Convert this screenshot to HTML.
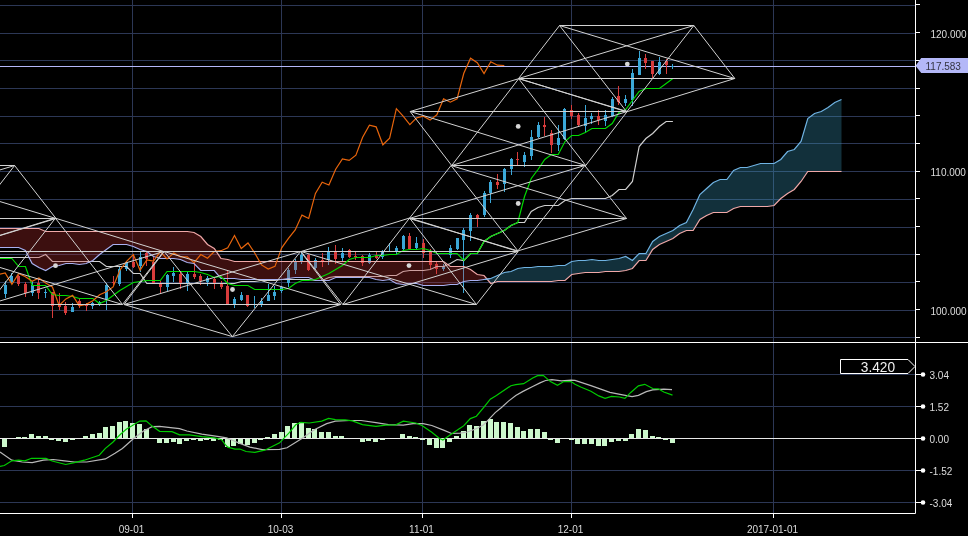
<!DOCTYPE html>
<html><head><meta charset="utf-8"><style>
html,body{margin:0;padding:0;background:#000;}
body{width:968px;height:536px;overflow:hidden;}
svg{display:block;}
</style></head><body>
<svg width="968" height="536" viewBox="0 0 968 536">
<defs><clipPath id="mp"><rect x="0" y="0" width="915" height="342"/></clipPath><clipPath id="lp"><rect x="0" y="343" width="915" height="170"/></clipPath></defs>
<rect width="968" height="536" fill="#000"/>
<path d="M0 5.5H915M0 33.5H915M0 60.5H915M0 88.5H915M0 116.5H915M0 143.5H915M0 171.5H915M0 199.5H915M0 227.5H915M0 254.5H915M0 282.5H915M0 310.5H915M0 337.5H915M0 374.5H915M0 406.5H915M0 470.5H915M0 502.5H915M132.5 0V342M132.5 343V513M281.5 0V342M281.5 343V513M422.5 0V342M422.5 343V513M571.5 0V342M571.5 343V513M773.5 0V342M773.5 343V513" stroke="#2c3755" stroke-width="1" fill="none"/>
<g clip-path="url(#mp)">
<path d="M0 66.5H915" stroke="#b4b8f8" stroke-width="1.2"/>
<rect x="5" y="281" width="1" height="17" fill="#3ba8d8"/>
<rect x="4" y="285" width="3" height="9" fill="#3ba8d8"/>
<rect x="11" y="273" width="1" height="11" fill="#3ba8d8"/>
<rect x="10" y="276" width="3" height="6" fill="#3ba8d8"/>
<rect x="18" y="275" width="1" height="11" fill="#d83c3c"/>
<rect x="17" y="276" width="3" height="8" fill="#d83c3c"/>
<rect x="25" y="282" width="1" height="15" fill="#d83c3c"/>
<rect x="24" y="284" width="3" height="9" fill="#d83c3c"/>
<rect x="32" y="281" width="1" height="15" fill="#3ba8d8"/>
<rect x="31" y="285" width="3" height="8" fill="#3ba8d8"/>
<rect x="38" y="279" width="1" height="20" fill="#d83c3c"/>
<rect x="37" y="283" width="3" height="10" fill="#d83c3c"/>
<rect x="45" y="289" width="1" height="9" fill="#3ba8d8"/>
<rect x="44" y="292" width="3" height="1" fill="#3ba8d8"/>
<rect x="52" y="292" width="1" height="26" fill="#d83c3c"/>
<rect x="51" y="292" width="3" height="14" fill="#d83c3c"/>
<rect x="59" y="293" width="1" height="17" fill="#d83c3c"/>
<rect x="58" y="304" width="3" height="3" fill="#d83c3c"/>
<rect x="65" y="302" width="1" height="13" fill="#d83c3c"/>
<rect x="64" y="306" width="3" height="7" fill="#d83c3c"/>
<rect x="72" y="303" width="1" height="9" fill="#3ba8d8"/>
<rect x="71" y="307" width="3" height="5" fill="#3ba8d8"/>
<rect x="79" y="298" width="1" height="10" fill="#d83c3c"/>
<rect x="78" y="301" width="3" height="5" fill="#d83c3c"/>
<rect x="86" y="303" width="1" height="8" fill="#d83c3c"/>
<rect x="85" y="305" width="3" height="1" fill="#d83c3c"/>
<rect x="92" y="302" width="1" height="7" fill="#3ba8d8"/>
<rect x="91" y="303" width="3" height="3" fill="#3ba8d8"/>
<rect x="99" y="301" width="1" height="5" fill="#3ba8d8"/>
<rect x="98" y="302" width="3" height="2" fill="#3ba8d8"/>
<rect x="106" y="283" width="1" height="27" fill="#3ba8d8"/>
<rect x="105" y="285" width="3" height="14" fill="#3ba8d8"/>
<rect x="113" y="276" width="1" height="9" fill="#d83c3c"/>
<rect x="112" y="282" width="3" height="1" fill="#d83c3c"/>
<rect x="119" y="266" width="1" height="20" fill="#3ba8d8"/>
<rect x="118" y="269" width="3" height="15" fill="#3ba8d8"/>
<rect x="126" y="261" width="1" height="10" fill="#3ba8d8"/>
<rect x="125" y="262" width="3" height="7" fill="#3ba8d8"/>
<rect x="133" y="254" width="1" height="14" fill="#d83c3c"/>
<rect x="132" y="262" width="3" height="5" fill="#d83c3c"/>
<rect x="140" y="251" width="1" height="21" fill="#3ba8d8"/>
<rect x="139" y="257" width="3" height="9" fill="#3ba8d8"/>
<rect x="146" y="252" width="1" height="14" fill="#d83c3c"/>
<rect x="145" y="253" width="3" height="6" fill="#d83c3c"/>
<rect x="153" y="257" width="1" height="26" fill="#d83c3c"/>
<rect x="152" y="262" width="3" height="21" fill="#d83c3c"/>
<rect x="160" y="281" width="1" height="12" fill="#d83c3c"/>
<rect x="159" y="283" width="3" height="4" fill="#d83c3c"/>
<rect x="167" y="274" width="1" height="17" fill="#3ba8d8"/>
<rect x="166" y="275" width="3" height="12" fill="#3ba8d8"/>
<rect x="173" y="267" width="1" height="15" fill="#3ba8d8"/>
<rect x="172" y="273" width="3" height="3" fill="#3ba8d8"/>
<rect x="180" y="272" width="1" height="17" fill="#d83c3c"/>
<rect x="179" y="274" width="3" height="10" fill="#d83c3c"/>
<rect x="187" y="272" width="1" height="19" fill="#3ba8d8"/>
<rect x="186" y="274" width="3" height="10" fill="#3ba8d8"/>
<rect x="194" y="262" width="1" height="17" fill="#d83c3c"/>
<rect x="193" y="274" width="3" height="3" fill="#d83c3c"/>
<rect x="200" y="274" width="1" height="11" fill="#d83c3c"/>
<rect x="199" y="276" width="3" height="5" fill="#d83c3c"/>
<rect x="207" y="276" width="1" height="10" fill="#3ba8d8"/>
<rect x="206" y="278" width="3" height="4" fill="#3ba8d8"/>
<rect x="214" y="278" width="1" height="11" fill="#d83c3c"/>
<rect x="213" y="279" width="3" height="4" fill="#d83c3c"/>
<rect x="221" y="281" width="1" height="8" fill="#d83c3c"/>
<rect x="220" y="284" width="3" height="3" fill="#d83c3c"/>
<rect x="227" y="271" width="1" height="34" fill="#d83c3c"/>
<rect x="226" y="286" width="3" height="19" fill="#d83c3c"/>
<rect x="234" y="297" width="1" height="11" fill="#3ba8d8"/>
<rect x="233" y="299" width="3" height="6" fill="#3ba8d8"/>
<rect x="241" y="292" width="1" height="9" fill="#3ba8d8"/>
<rect x="240" y="295" width="3" height="5" fill="#3ba8d8"/>
<rect x="247" y="295" width="1" height="12" fill="#d83c3c"/>
<rect x="246" y="295" width="3" height="11" fill="#d83c3c"/>
<rect x="254" y="296" width="1" height="12" fill="#3ba8d8"/>
<rect x="253" y="304" width="3" height="1" fill="#3ba8d8"/>
<rect x="261" y="298" width="1" height="9" fill="#3ba8d8"/>
<rect x="260" y="301" width="3" height="3" fill="#3ba8d8"/>
<rect x="268" y="284" width="1" height="17" fill="#3ba8d8"/>
<rect x="267" y="295" width="3" height="6" fill="#3ba8d8"/>
<rect x="274" y="286" width="1" height="14" fill="#3ba8d8"/>
<rect x="273" y="292" width="3" height="4" fill="#3ba8d8"/>
<rect x="281" y="286" width="1" height="7" fill="#3ba8d8"/>
<rect x="280" y="287" width="3" height="4" fill="#3ba8d8"/>
<rect x="288" y="268" width="1" height="19" fill="#3ba8d8"/>
<rect x="287" y="270" width="3" height="13" fill="#3ba8d8"/>
<rect x="295" y="259" width="1" height="15" fill="#3ba8d8"/>
<rect x="294" y="261" width="3" height="9" fill="#3ba8d8"/>
<rect x="301" y="253" width="1" height="11" fill="#3ba8d8"/>
<rect x="300" y="255" width="3" height="6" fill="#3ba8d8"/>
<rect x="308" y="254" width="1" height="17" fill="#d83c3c"/>
<rect x="307" y="255" width="3" height="15" fill="#d83c3c"/>
<rect x="315" y="258" width="1" height="12" fill="#3ba8d8"/>
<rect x="314" y="260" width="3" height="8" fill="#3ba8d8"/>
<rect x="322" y="253" width="1" height="14" fill="#d83c3c"/>
<rect x="321" y="260" width="3" height="1" fill="#d83c3c"/>
<rect x="328" y="247" width="1" height="18" fill="#3ba8d8"/>
<rect x="327" y="252" width="3" height="8" fill="#3ba8d8"/>
<rect x="335" y="245" width="1" height="19" fill="#d83c3c"/>
<rect x="334" y="252" width="3" height="7" fill="#d83c3c"/>
<rect x="342" y="248" width="1" height="13" fill="#3ba8d8"/>
<rect x="341" y="253" width="3" height="5" fill="#3ba8d8"/>
<rect x="349" y="249" width="1" height="9" fill="#d83c3c"/>
<rect x="348" y="250" width="3" height="7" fill="#d83c3c"/>
<rect x="355" y="252" width="1" height="8" fill="#d83c3c"/>
<rect x="354" y="256" width="3" height="1" fill="#d83c3c"/>
<rect x="362" y="255" width="1" height="11" fill="#d83c3c"/>
<rect x="361" y="256" width="3" height="7" fill="#d83c3c"/>
<rect x="369" y="253" width="1" height="11" fill="#3ba8d8"/>
<rect x="368" y="255" width="3" height="8" fill="#3ba8d8"/>
<rect x="376" y="252" width="1" height="7" fill="#d83c3c"/>
<rect x="375" y="255" width="3" height="3" fill="#d83c3c"/>
<rect x="382" y="250" width="1" height="9" fill="#3ba8d8"/>
<rect x="381" y="252" width="3" height="5" fill="#3ba8d8"/>
<rect x="389" y="243" width="1" height="9" fill="#3ba8d8"/>
<rect x="388" y="251" width="3" height="1" fill="#3ba8d8"/>
<rect x="396" y="246" width="1" height="9" fill="#3ba8d8"/>
<rect x="395" y="248" width="3" height="4" fill="#3ba8d8"/>
<rect x="403" y="235" width="1" height="15" fill="#3ba8d8"/>
<rect x="402" y="236" width="3" height="13" fill="#3ba8d8"/>
<rect x="409" y="233" width="1" height="16" fill="#d83c3c"/>
<rect x="408" y="236" width="3" height="13" fill="#d83c3c"/>
<rect x="416" y="237" width="1" height="12" fill="#3ba8d8"/>
<rect x="415" y="243" width="3" height="5" fill="#3ba8d8"/>
<rect x="423" y="239" width="1" height="19" fill="#d83c3c"/>
<rect x="422" y="243" width="3" height="10" fill="#d83c3c"/>
<rect x="430" y="249" width="1" height="20" fill="#d83c3c"/>
<rect x="429" y="252" width="3" height="13" fill="#d83c3c"/>
<rect x="436" y="262" width="1" height="12" fill="#d83c3c"/>
<rect x="435" y="264" width="3" height="5" fill="#d83c3c"/>
<rect x="443" y="264" width="1" height="7" fill="#3ba8d8"/>
<rect x="442" y="266" width="3" height="3" fill="#3ba8d8"/>
<rect x="450" y="245" width="1" height="13" fill="#3ba8d8"/>
<rect x="449" y="248" width="3" height="7" fill="#3ba8d8"/>
<rect x="457" y="238" width="1" height="12" fill="#3ba8d8"/>
<rect x="456" y="238" width="3" height="11" fill="#3ba8d8"/>
<rect x="463" y="228" width="1" height="65" fill="#3ba8d8"/>
<rect x="462" y="230" width="3" height="10" fill="#3ba8d8"/>
<rect x="470" y="213" width="1" height="28" fill="#3ba8d8"/>
<rect x="469" y="215" width="3" height="16" fill="#3ba8d8"/>
<rect x="477" y="214" width="1" height="13" fill="#d83c3c"/>
<rect x="476" y="215" width="3" height="4" fill="#d83c3c"/>
<rect x="484" y="191" width="1" height="26" fill="#3ba8d8"/>
<rect x="483" y="193" width="3" height="22" fill="#3ba8d8"/>
<rect x="490" y="180" width="1" height="23" fill="#3ba8d8"/>
<rect x="489" y="182" width="3" height="11" fill="#3ba8d8"/>
<rect x="497" y="174" width="1" height="15" fill="#d83c3c"/>
<rect x="496" y="182" width="3" height="3" fill="#d83c3c"/>
<rect x="504" y="168" width="1" height="24" fill="#3ba8d8"/>
<rect x="503" y="169" width="3" height="15" fill="#3ba8d8"/>
<rect x="511" y="158" width="1" height="17" fill="#3ba8d8"/>
<rect x="510" y="159" width="3" height="10" fill="#3ba8d8"/>
<rect x="517" y="152" width="1" height="13" fill="#d83c3c"/>
<rect x="516" y="159" width="3" height="1" fill="#d83c3c"/>
<rect x="524" y="152" width="1" height="15" fill="#3ba8d8"/>
<rect x="523" y="155" width="3" height="7" fill="#3ba8d8"/>
<rect x="531" y="130" width="1" height="30" fill="#3ba8d8"/>
<rect x="530" y="137" width="3" height="19" fill="#3ba8d8"/>
<rect x="538" y="122" width="1" height="16" fill="#3ba8d8"/>
<rect x="537" y="125" width="3" height="12" fill="#3ba8d8"/>
<rect x="544" y="117" width="1" height="19" fill="#d83c3c"/>
<rect x="543" y="125" width="3" height="2" fill="#d83c3c"/>
<rect x="551" y="130" width="1" height="23" fill="#d83c3c"/>
<rect x="550" y="133" width="3" height="12" fill="#d83c3c"/>
<rect x="558" y="125" width="1" height="26" fill="#3ba8d8"/>
<rect x="557" y="138" width="3" height="7" fill="#3ba8d8"/>
<rect x="564" y="108" width="1" height="32" fill="#3ba8d8"/>
<rect x="563" y="109" width="3" height="30" fill="#3ba8d8"/>
<rect x="571" y="105" width="1" height="14" fill="#d83c3c"/>
<rect x="570" y="110" width="3" height="6" fill="#d83c3c"/>
<rect x="578" y="113" width="1" height="13" fill="#d83c3c"/>
<rect x="577" y="115" width="3" height="10" fill="#d83c3c"/>
<rect x="585" y="105" width="1" height="28" fill="#3ba8d8"/>
<rect x="584" y="118" width="3" height="8" fill="#3ba8d8"/>
<rect x="591" y="113" width="1" height="11" fill="#3ba8d8"/>
<rect x="590" y="116" width="3" height="3" fill="#3ba8d8"/>
<rect x="598" y="110" width="1" height="15" fill="#d83c3c"/>
<rect x="597" y="116" width="3" height="4" fill="#d83c3c"/>
<rect x="605" y="110" width="1" height="16" fill="#3ba8d8"/>
<rect x="604" y="115" width="3" height="6" fill="#3ba8d8"/>
<rect x="612" y="97" width="1" height="20" fill="#3ba8d8"/>
<rect x="611" y="99" width="3" height="17" fill="#3ba8d8"/>
<rect x="618" y="86" width="1" height="19" fill="#d83c3c"/>
<rect x="617" y="96" width="3" height="6" fill="#d83c3c"/>
<rect x="625" y="95" width="1" height="11" fill="#3ba8d8"/>
<rect x="624" y="99" width="3" height="4" fill="#3ba8d8"/>
<rect x="632" y="69" width="1" height="37" fill="#3ba8d8"/>
<rect x="631" y="73" width="3" height="27" fill="#3ba8d8"/>
<rect x="639" y="51" width="1" height="24" fill="#3ba8d8"/>
<rect x="638" y="58" width="3" height="17" fill="#3ba8d8"/>
<rect x="645" y="54" width="1" height="15" fill="#d83c3c"/>
<rect x="644" y="58" width="3" height="5" fill="#d83c3c"/>
<rect x="652" y="61" width="1" height="17" fill="#d83c3c"/>
<rect x="651" y="61" width="3" height="13" fill="#d83c3c"/>
<rect x="659" y="57" width="1" height="18" fill="#3ba8d8"/>
<rect x="658" y="62" width="3" height="12" fill="#3ba8d8"/>
<rect x="666" y="59" width="1" height="15" fill="#d83c3c"/>
<rect x="665" y="61" width="3" height="4" fill="#d83c3c"/>
<rect x="672" y="64" width="1" height="5" fill="#3ba8d8"/>
<rect x="671" y="66" width="3" height="1" fill="#3ba8d8"/>
<polyline points="-1.56,257.5 5.18,257.5 11.93,257.5 18.67,257.5 25.42,257.5 32.16,257.5 38.91,257.5 45.65,254.5 52.4,261.5 59.14,261.5 65.89,261.5 72.63,261.5 79.37,261.5 86.12,261.5 92.86,261.5 99.61,261.5 106.35,266.5 113.1,266.5 119.84,266.5 126.59,266.5 133.33,273.5 140.07,273.5 146.82,283.5 153.56,283.5 160.31,283.5 167.05,283.5 173.8,283.5 180.54,283.5 187.29,283.5 194.03,283.5 200.78,283.5 207.52,283.5 214.26,283.5 221.01,283.5 227.75,283.5 234.5,283.5 241.24,281.5 247.99,281.5 254.73,281.5 261.48,280.5 268.22,280.5 274.96,280.5 281.71,279.5 288.45,279.5 295.2,279.5 301.94,279.5 308.69,279.5 315.43,280.5 322.18,280.5 328.92,277.5 335.67,276.5 342.41,276.5 349.15,276.5 355.9,276.5 362.64,276.5 369.39,276.5 376.13,276.5 382.88,276.5 389.62,275.5 396.37,275.5 403.11,271.5 409.85,270.5 416.6,270.5 423.34,270.5 430.09,269.5 436.83,266.5 443.58,266.5 450.32,263.5 457.07,259.5 463.81,260.5 470.56,253.5 477.3,253.5 484.04,241.5 490.79,236.5 497.53,233.5 504.28,230.5 511.02,225.5 517.77,222.5 524.51,222.5 531.26,211.5 538,207.5 544.74,205.5 551.49,205.5 558.23,205.5 564.98,200.5 571.72,198.5 578.47,198.5 585.21,198.5 591.96,198.5 598.7,198.5 605.45,198.5 612.19,195.5 618.93,189.5 625.68,189.5 632.42,181.5 639.17,146.5 645.91,138.5 652.66,133.5 659.4,126.5 666.15,121.5 672.89,121.5" fill="none" stroke="#d0d0d0" stroke-width="1.2"/>
<polygon points="-1.56,247.5 5.18,247.5 11.93,247.5 18.67,247.5 25.42,250.5 32.16,263.5 38.91,267.5 45.65,270.5 52.4,266.5 59.14,265.5 65.89,263.5 72.63,263.5 79.37,264.5 86.12,263.5 92.86,260.5 99.61,254.5 106.35,249.5 113.1,244.5 119.84,244.5 126.59,244.5 133.33,246.5 140.07,249.5 146.82,251.5 153.56,256.5 160.31,258.5 167.05,258.5 173.8,258.5 180.54,259.5 187.29,262.5 194.03,263.5 200.78,270.5 207.52,270.5 214.26,270.5 221.01,278.5 227.75,278.5 234.5,278.5 241.24,279.5 247.99,279.5 254.73,279.5 261.48,279.5 268.22,279.5 274.96,279.5 281.71,279.5 288.45,278.5 295.2,277.5 301.94,277.5 308.69,277.5 315.43,280.5 322.18,280.5 328.92,280.5 335.67,277.5 342.41,277.5 349.15,277.5 355.9,277.5 362.64,277.5 369.39,277.5 376.13,279.5 382.88,280.5 389.62,279.5 396.37,283.5 403.11,284.5 409.85,283.5 416.6,283.5 423.34,285.5 430.09,285.5 436.83,285.5 443.58,285.5 450.32,284.5 457.07,284.5 463.81,281.5 470.56,280.5 477.3,280.5 484.04,279.5 487.04,279.06 487.04,279.06 484.04,275.5 477.3,274.5 470.56,269.5 463.81,266.5 457.07,266.5 450.32,266.5 443.58,261.5 436.83,261.5 430.09,261.5 423.34,261.5 416.6,261.5 409.85,261.5 403.11,261.5 396.37,261.5 389.62,261.5 382.88,261.5 376.13,261.5 369.39,261.5 362.64,261.5 355.9,261.5 349.15,261.5 342.41,261.5 335.67,261.5 328.92,261.5 322.18,261.5 315.43,261.5 308.69,261.5 301.94,261.5 295.2,261.5 288.45,261.5 281.71,261.5 274.96,261.5 268.22,261.5 261.48,261.5 254.73,261.5 247.99,261.5 241.24,261.5 234.5,261.5 227.75,259.5 221.01,258.5 214.26,248.5 207.52,244.5 200.78,236.5 194.03,232.5 187.29,231.5 180.54,231.5 173.8,231.5 167.05,231.5 160.31,231.5 153.56,231.5 146.82,231.5 140.07,231.5 133.33,231.5 126.59,231.5 119.84,231.5 113.1,231.5 106.35,231.5 99.61,231.5 92.86,231.5 86.12,231.5 79.37,231.5 72.63,231.5 65.89,231.5 59.14,231.5 52.4,231.5 45.65,231.5 38.91,228.5 32.16,228.5 25.42,228.5 18.67,228.5 11.93,228.5 5.18,228.5 -1.56,228.5" fill="rgba(200,50,50,0.3)"/>
<polygon points="487.04,279.06 490.79,278.5 497.53,275.5 504.28,272.5 511.02,271.5 517.77,268.5 524.51,267.5 531.26,267.5 538,266.5 544.74,266.5 551.49,266.5 558.23,265.5 564.98,265.5 571.72,261.5 578.47,260.5 585.21,260.5 591.96,259.5 598.7,260.5 605.45,260.5 612.19,259.5 618.93,258.5 625.68,256.5 632.42,260.5 639.17,253.5 645.91,253.5 652.66,241.5 659.4,236.5 666.15,233.5 672.89,230.5 679.63,225.5 686.38,222.5 693.12,209.5 699.87,194.5 706.61,188.5 713.36,182.5 720.1,179.5 726.85,179.5 733.59,170.5 740.34,167.5 747.08,167.5 753.82,165.5 760.57,163.5 767.31,163.5 774.06,163.5 780.8,159.5 787.55,151.5 794.29,149.5 801.04,141.5 807.78,118.5 814.52,113.5 821.27,111.5 828.01,107.5 834.76,102.5 841.5,99.5 841.5,171.5 834.76,171.5 828.01,171.5 821.27,171.5 814.52,171.5 807.78,171.5 801.04,181.5 794.29,189.5 787.55,193.5 780.8,198.5 774.06,205.5 767.31,206.5 760.57,206.5 753.82,206.5 747.08,206.5 740.34,206.5 733.59,208.5 726.85,212.5 720.1,212.5 713.36,212.5 706.61,215.5 699.87,219.5 693.12,230.5 686.38,230.5 679.63,233.5 672.89,238.5 666.15,241.5 659.4,244.5 652.66,249.5 645.91,260.5 639.17,260.5 632.42,268.5 625.68,270.5 618.93,271.5 612.19,271.5 605.45,271.5 598.7,272.5 591.96,272.5 585.21,272.5 578.47,273.5 571.72,274.5 564.98,280.5 558.23,280.5 551.49,281.5 544.74,281.5 538,281.5 531.26,281.5 524.51,281.5 517.77,281.5 511.02,281.5 504.28,281.5 497.53,281.5 490.79,283.5 487.04,279.06" fill="rgba(60,160,195,0.3)"/>
<polyline points="-1.56,228.5 5.18,228.5 11.93,228.5 18.67,228.5 25.42,228.5 32.16,228.5 38.91,228.5 45.65,231.5 52.4,231.5 59.14,231.5 65.89,231.5 72.63,231.5 79.37,231.5 86.12,231.5 92.86,231.5 99.61,231.5 106.35,231.5 113.1,231.5 119.84,231.5 126.59,231.5 133.33,231.5 140.07,231.5 146.82,231.5 153.56,231.5 160.31,231.5 167.05,231.5 173.8,231.5 180.54,231.5 187.29,231.5 194.03,232.5 200.78,236.5 207.52,244.5 214.26,248.5 221.01,258.5 227.75,259.5 234.5,261.5 241.24,261.5 247.99,261.5 254.73,261.5 261.48,261.5 268.22,261.5 274.96,261.5 281.71,261.5 288.45,261.5 295.2,261.5 301.94,261.5 308.69,261.5 315.43,261.5 322.18,261.5 328.92,261.5 335.67,261.5 342.41,261.5 349.15,261.5 355.9,261.5 362.64,261.5 369.39,261.5 376.13,261.5 382.88,261.5 389.62,261.5 396.37,261.5 403.11,261.5 409.85,261.5 416.6,261.5 423.34,261.5 430.09,261.5 436.83,261.5 443.58,261.5 450.32,266.5 457.07,266.5 463.81,266.5 470.56,269.5 477.3,274.5 484.04,275.5 490.79,283.5 497.53,281.5 504.28,281.5 511.02,281.5 517.77,281.5 524.51,281.5 531.26,281.5 538,281.5 544.74,281.5 551.49,281.5 558.23,280.5 564.98,280.5 571.72,274.5 578.47,273.5 585.21,272.5 591.96,272.5 598.7,272.5 605.45,271.5 612.19,271.5 618.93,271.5 625.68,270.5 632.42,268.5 639.17,260.5 645.91,260.5 652.66,249.5 659.4,244.5 666.15,241.5 672.89,238.5 679.63,233.5 686.38,230.5 693.12,230.5 699.87,219.5 706.61,215.5 713.36,212.5 720.1,212.5 726.85,212.5 733.59,208.5 740.34,206.5 747.08,206.5 753.82,206.5 760.57,206.5 767.31,206.5 774.06,205.5 780.8,198.5 787.55,193.5 794.29,189.5 801.04,181.5 807.78,171.5 814.52,171.5 821.27,171.5 828.01,171.5 834.76,171.5 841.5,171.5" fill="none" stroke="#f0a8a8" stroke-width="1.2"/>
<polyline points="-1.56,247.5 5.18,247.5 11.93,247.5 18.67,247.5 25.42,250.5 32.16,263.5 38.91,267.5 45.65,270.5 52.4,266.5 59.14,265.5 65.89,263.5 72.63,263.5 79.37,264.5 86.12,263.5 92.86,260.5 99.61,254.5 106.35,249.5 113.1,244.5 119.84,244.5 126.59,244.5 133.33,246.5 140.07,249.5 146.82,251.5 153.56,256.5 160.31,258.5 167.05,258.5 173.8,258.5 180.54,259.5 187.29,262.5 194.03,263.5 200.78,270.5 207.52,270.5 214.26,270.5 221.01,278.5 227.75,278.5 234.5,278.5 241.24,279.5 247.99,279.5 254.73,279.5 261.48,279.5 268.22,279.5 274.96,279.5 281.71,279.5 288.45,278.5 295.2,277.5 301.94,277.5 308.69,277.5 315.43,280.5 322.18,280.5 328.92,280.5 335.67,277.5 342.41,277.5 349.15,277.5 355.9,277.5 362.64,277.5 369.39,277.5 376.13,279.5 382.88,280.5 389.62,279.5 396.37,283.5 403.11,284.5 409.85,283.5 416.6,283.5 423.34,285.5 430.09,285.5 436.83,285.5 443.58,285.5 450.32,284.5 457.07,284.5 463.81,281.5 470.56,280.5 477.3,280.5 484.04,279.5 490.79,278.5" fill="none" stroke="#a8b0f0" stroke-width="1.2"/>
<polyline points="484.04,279.5 490.79,278.5 497.53,275.5 504.28,272.5 511.02,271.5 517.77,268.5 524.51,267.5 531.26,267.5 538,266.5 544.74,266.5 551.49,266.5 558.23,265.5 564.98,265.5 571.72,261.5 578.47,260.5 585.21,260.5 591.96,259.5 598.7,260.5 605.45,260.5 612.19,259.5 618.93,258.5 625.68,256.5 632.42,260.5 639.17,253.5 645.91,253.5 652.66,241.5 659.4,236.5 666.15,233.5 672.89,230.5 679.63,225.5 686.38,222.5 693.12,209.5 699.87,194.5 706.61,188.5 713.36,182.5 720.1,179.5 726.85,179.5 733.59,170.5 740.34,167.5 747.08,167.5 753.82,165.5 760.57,163.5 767.31,163.5 774.06,163.5 780.8,159.5 787.55,151.5 794.29,149.5 801.04,141.5 807.78,118.5 814.52,113.5 821.27,111.5 828.01,107.5 834.76,102.5 841.5,99.5" fill="none" stroke="#70b4e4" stroke-width="1.2"/>
<polyline points="-1.56,258.5 5.18,258.5 11.93,258.5 18.67,266.5 25.42,266.5 32.16,285.5 38.91,285.5 45.65,285.5 52.4,294.5 59.14,295.5 65.89,295.5 72.63,296.5 79.37,298.5 86.12,298.5 92.86,298.5 99.61,303.5 106.35,300.5 113.1,295.5 119.84,290.5 126.59,286.5 133.33,282.5 140.07,281.5 146.82,280.5 153.56,280.5 160.31,280.5 167.05,271.5 173.8,271.5 180.54,271.5 187.29,271.5 194.03,271.5 200.78,272.5 207.52,274.5 214.26,277.5 221.01,276.5 227.75,283.5 234.5,285.5 241.24,285.5 247.99,285.5 254.73,289.5 261.48,289.5 268.22,289.5 274.96,289.5 281.71,289.5 288.45,288.5 295.2,283.5 301.94,280.5 308.69,280.5 315.43,279.5 322.18,276.5 328.92,273.5 335.67,269.5 342.41,265.5 349.15,259.5 355.9,257.5 362.64,257.5 369.39,257.5 376.13,255.5 382.88,255.5 389.62,254.5 396.37,254.5 403.11,250.5 409.85,249.5 416.6,249.5 423.34,248.5 430.09,250.5 436.83,253.5 443.58,253.5 450.32,253.5 457.07,253.5 463.81,260.5 470.56,253.5 477.3,253.5 484.04,241.5 490.79,236.5 497.53,233.5 504.28,230.5 511.02,225.5 517.77,222.5 524.51,196.5 531.26,178.5 538,169.5 544.74,159.5 551.49,154.5 558.23,154.5 564.98,141.5 571.72,135.5 578.47,135.5 585.21,132.5 591.96,128.5 598.7,128.5 605.45,128.5 612.19,123.5 618.93,112.5 625.68,109.5 632.42,100.5 639.17,91.5 645.91,88.5 652.66,88.5 659.4,88.5 666.15,83.5 672.89,78.5" fill="none" stroke="#00dd00" stroke-width="1.15"/>
<polyline points="-1.56,274.6 5.18,273 11.93,284.3 18.67,273.5 25.42,276.8 32.16,281.3 38.91,278 45.65,283 52.4,287 59.14,305.4 65.89,298.9 72.63,295.4 79.37,305.9 86.12,304.4 92.86,300.7 99.61,294.7 106.35,291.7 113.1,286.9 119.84,270.2 126.59,261.3 133.33,254.6 140.07,270.2 146.82,259.8 153.56,261 160.31,251.6 167.05,259 173.8,253 180.54,256.8 187.29,256.8 194.03,262.7 200.78,254.5 207.52,258.2 214.26,251.5 221.01,250.7 227.75,247.8 234.5,235.5 241.24,248.5 247.99,243 254.73,253 261.48,264.9 268.22,269 274.96,266.4 281.71,247.9 288.45,238.3 295.2,230 301.94,215.1 308.69,218.5 315.43,193.4 322.18,182.2 328.92,185 335.67,169.2 342.41,158.9 349.15,160.4 355.9,155.2 362.64,137.2 369.39,125.1 376.13,126.8 382.88,144.8 389.62,138.1 396.37,108.7 403.11,116.2 409.85,124.6 416.6,117.9 423.34,116.2 430.09,120.1 436.83,114.8 443.58,98.8 450.32,102.2 457.07,98.8 463.81,73.3 470.56,58.2 477.3,62.7 484.04,73.6 490.79,61.8 497.53,65.2 504.28,65.5" fill="none" stroke="#e8650c" stroke-width="1.2"/>
<path d="M-119.4 165.5L14.6 165.5M-160.8 218.5L56 218.5M-119.4 165.5L-160.8 218.5M14.6 165.5L56 218.5M-119.4 165.5L-52.4 251.6M14.6 165.5L-52.4 251.6M-119.4 165.5L56 218.5M14.6 165.5L-160.8 218.5M-160.8 218.5L-52.4 251.6M56 218.5L-52.4 251.6M-11.7 304.5L122.5 304.5M-52.8 251.5L163.6 251.5M-11.7 304.5L-52.8 251.5M122.5 304.5L163.6 251.5M-11.7 304.5L55.4 218.2M122.5 304.5L55.4 218.2M-11.7 304.5L163.6 251.5M122.5 304.5L-52.8 251.5M-52.8 251.5L55.4 218.2M163.6 251.5L55.4 218.2M164.2 251.5L300.6 251.5M124 304.5L340.8 304.5M164.2 251.5L124 304.5M300.6 251.5L340.8 304.5M164.2 251.5L232.4 336.6M300.6 251.5L232.4 336.6M164.2 251.5L340.8 304.5M300.6 251.5L124 304.5M124 304.5L232.4 336.6M340.8 304.5L232.4 336.6M342.8 304.5L476.4 304.5M301.1 251.5L518.1 251.5M342.8 304.5L301.1 251.5M476.4 304.5L518.1 251.5M342.8 304.5L409.6 218M476.4 304.5L409.6 218M342.8 304.5L518.1 251.5M476.4 304.5L301.1 251.5M301.1 251.5L409.6 218M518.1 251.5L409.6 218M451.05 165.5L584.75 165.5M409.25 218.5L626.55 218.5M451.05 165.5L409.25 218.5M584.75 165.5L626.55 218.5M451.05 165.5L517.9 250.9M584.75 165.5L517.9 250.9M451.05 165.5L626.55 218.5M584.75 165.5L409.25 218.5M409.25 218.5L517.9 250.9M626.55 218.5L517.9 250.9M451.7 165.5L585.7 165.5M410.2 111.5L627.2 111.5M451.7 165.5L410.2 111.5M585.7 165.5L627.2 111.5M451.7 165.5L518.7 78.7M585.7 165.5L518.7 78.7M451.7 165.5L627.2 111.5M585.7 165.5L410.2 111.5M410.2 111.5L518.7 78.7M627.2 111.5L518.7 78.7M559.55 25.5L693.85 25.5M518.6 78.5L734.8 78.5M559.55 25.5L518.6 78.5M693.85 25.5L734.8 78.5M559.55 25.5L626.7 111.8M693.85 25.5L626.7 111.8M559.55 25.5L734.8 78.5M693.85 25.5L518.6 78.5M518.6 78.5L626.7 111.8M734.8 78.5L626.7 111.8" stroke="#d2d2d2" stroke-width="1" fill="none"/>
<circle cx="55.5" cy="265.7" r="2.4" fill="#d6d6d6"/>
<circle cx="232.5" cy="289.5" r="2.4" fill="#d6d6d6"/>
<circle cx="409" cy="265.6" r="2.4" fill="#d6d6d6"/>
<circle cx="518.2" cy="203.5" r="2.4" fill="#d6d6d6"/>
<circle cx="518.2" cy="126.4" r="2.4" fill="#d6d6d6"/>
<circle cx="627.3" cy="64.1" r="2.4" fill="#d6d6d6"/>
</g>
<g clip-path="url(#lp)">
<rect x="2" y="439" width="5" height="8" fill="#ccf8cc"/>
<rect x="16" y="437" width="5" height="1" fill="#ccf8cc"/>
<rect x="22" y="437" width="5" height="1" fill="#ccf8cc"/>
<rect x="29" y="434" width="5" height="4" fill="#ccf8cc"/>
<rect x="36" y="436" width="5" height="2" fill="#ccf8cc"/>
<rect x="43" y="436" width="5" height="2" fill="#ccf8cc"/>
<rect x="49" y="439" width="5" height="1" fill="#ccf8cc"/>
<rect x="56" y="439" width="5" height="2" fill="#ccf8cc"/>
<rect x="63" y="439" width="5" height="3" fill="#ccf8cc"/>
<rect x="70" y="439" width="5" height="1" fill="#ccf8cc"/>
<rect x="83" y="436" width="5" height="2" fill="#ccf8cc"/>
<rect x="90" y="434" width="5" height="4" fill="#ccf8cc"/>
<rect x="97" y="433" width="5" height="5" fill="#ccf8cc"/>
<rect x="103" y="427" width="5" height="11" fill="#ccf8cc"/>
<rect x="110" y="426" width="5" height="12" fill="#ccf8cc"/>
<rect x="117" y="422" width="5" height="16" fill="#ccf8cc"/>
<rect x="123" y="421" width="5" height="17" fill="#ccf8cc"/>
<rect x="130" y="423" width="5" height="15" fill="#ccf8cc"/>
<rect x="137" y="424" width="5" height="14" fill="#ccf8cc"/>
<rect x="144" y="429" width="5" height="9" fill="#ccf8cc"/>
<rect x="157" y="439" width="5" height="4" fill="#ccf8cc"/>
<rect x="164" y="439" width="5" height="4" fill="#ccf8cc"/>
<rect x="171" y="439" width="5" height="3" fill="#ccf8cc"/>
<rect x="177" y="439" width="5" height="5" fill="#ccf8cc"/>
<rect x="184" y="439" width="5" height="2" fill="#ccf8cc"/>
<rect x="191" y="439" width="5" height="1" fill="#ccf8cc"/>
<rect x="198" y="439" width="5" height="2" fill="#ccf8cc"/>
<rect x="204" y="439" width="5" height="1" fill="#ccf8cc"/>
<rect x="211" y="439" width="5" height="2" fill="#ccf8cc"/>
<rect x="218" y="439" width="5" height="1" fill="#ccf8cc"/>
<rect x="225" y="439" width="5" height="8" fill="#ccf8cc"/>
<rect x="231" y="439" width="5" height="7" fill="#ccf8cc"/>
<rect x="238" y="439" width="5" height="5" fill="#ccf8cc"/>
<rect x="245" y="439" width="5" height="6" fill="#ccf8cc"/>
<rect x="252" y="439" width="5" height="4" fill="#ccf8cc"/>
<rect x="258" y="439" width="5" height="1" fill="#ccf8cc"/>
<rect x="265" y="437" width="5" height="1" fill="#ccf8cc"/>
<rect x="272" y="434" width="5" height="4" fill="#ccf8cc"/>
<rect x="279" y="432" width="5" height="6" fill="#ccf8cc"/>
<rect x="285" y="426" width="5" height="12" fill="#ccf8cc"/>
<rect x="292" y="423" width="5" height="15" fill="#ccf8cc"/>
<rect x="299" y="422" width="5" height="16" fill="#ccf8cc"/>
<rect x="306" y="428" width="5" height="10" fill="#ccf8cc"/>
<rect x="312" y="429" width="5" height="9" fill="#ccf8cc"/>
<rect x="319" y="432" width="5" height="6" fill="#ccf8cc"/>
<rect x="326" y="432" width="5" height="6" fill="#ccf8cc"/>
<rect x="333" y="436" width="5" height="2" fill="#ccf8cc"/>
<rect x="339" y="436" width="5" height="2" fill="#ccf8cc"/>
<rect x="360" y="439" width="5" height="3" fill="#ccf8cc"/>
<rect x="366" y="439" width="5" height="2" fill="#ccf8cc"/>
<rect x="373" y="439" width="5" height="3" fill="#ccf8cc"/>
<rect x="380" y="439" width="5" height="1" fill="#ccf8cc"/>
<rect x="400" y="434" width="5" height="4" fill="#ccf8cc"/>
<rect x="407" y="436" width="5" height="2" fill="#ccf8cc"/>
<rect x="413" y="437" width="5" height="1" fill="#ccf8cc"/>
<rect x="420" y="439" width="5" height="1" fill="#ccf8cc"/>
<rect x="427" y="439" width="5" height="6" fill="#ccf8cc"/>
<rect x="434" y="439" width="5" height="9" fill="#ccf8cc"/>
<rect x="440" y="439" width="5" height="9" fill="#ccf8cc"/>
<rect x="447" y="439" width="5" height="3" fill="#ccf8cc"/>
<rect x="454" y="436" width="5" height="2" fill="#ccf8cc"/>
<rect x="461" y="431" width="5" height="7" fill="#ccf8cc"/>
<rect x="467" y="425" width="5" height="13" fill="#ccf8cc"/>
<rect x="474" y="426" width="5" height="12" fill="#ccf8cc"/>
<rect x="481" y="421" width="5" height="17" fill="#ccf8cc"/>
<rect x="488" y="419" width="5" height="19" fill="#ccf8cc"/>
<rect x="494" y="422" width="5" height="16" fill="#ccf8cc"/>
<rect x="501" y="422" width="5" height="16" fill="#ccf8cc"/>
<rect x="508" y="423" width="5" height="15" fill="#ccf8cc"/>
<rect x="515" y="427" width="5" height="11" fill="#ccf8cc"/>
<rect x="521" y="431" width="5" height="7" fill="#ccf8cc"/>
<rect x="528" y="429" width="5" height="9" fill="#ccf8cc"/>
<rect x="535" y="429" width="5" height="9" fill="#ccf8cc"/>
<rect x="542" y="432" width="5" height="6" fill="#ccf8cc"/>
<rect x="548" y="439" width="5" height="1" fill="#ccf8cc"/>
<rect x="555" y="439" width="5" height="4" fill="#ccf8cc"/>
<rect x="569" y="439" width="5" height="1" fill="#ccf8cc"/>
<rect x="575" y="439" width="5" height="5" fill="#ccf8cc"/>
<rect x="582" y="439" width="5" height="5" fill="#ccf8cc"/>
<rect x="589" y="439" width="5" height="5" fill="#ccf8cc"/>
<rect x="596" y="439" width="5" height="7" fill="#ccf8cc"/>
<rect x="602" y="439" width="5" height="7" fill="#ccf8cc"/>
<rect x="609" y="439" width="5" height="3" fill="#ccf8cc"/>
<rect x="616" y="439" width="5" height="2" fill="#ccf8cc"/>
<rect x="623" y="439" width="5" height="2" fill="#ccf8cc"/>
<rect x="629" y="434" width="5" height="4" fill="#ccf8cc"/>
<rect x="636" y="429" width="5" height="9" fill="#ccf8cc"/>
<rect x="643" y="430" width="5" height="8" fill="#ccf8cc"/>
<rect x="650" y="436" width="5" height="2" fill="#ccf8cc"/>
<rect x="656" y="437" width="5" height="1" fill="#ccf8cc"/>
<rect x="663" y="439" width="5" height="1" fill="#ccf8cc"/>
<rect x="670" y="439" width="5" height="4" fill="#ccf8cc"/>
<path d="M0 438.5H915" stroke="#e8e8e8" stroke-width="1"/>
<polyline points="0,452.1 11.8,460.2 22.3,462 32.2,462.6 43.4,460.2 53.3,459.5 64.5,460.8 74.4,462 86.8,462 105.4,458.9 115,453.3 122.4,448.4 133.6,438.5 143.5,431 152.2,426.7 159.6,426.4 179.5,428.6 186.9,431 201.8,434.1 219.1,436.6 226.6,437.9 233,440.5 239.9,443.4 249.8,447.1 262.2,449.6 279.6,449.4 287,447.8 301.9,438.5 314.3,429.8 326.7,423.6 335.4,421.1 350,420.5 361.1,420.5 376,422.6 388.4,424.6 403.3,425.1 413.2,423.6 423.1,423.6 431.8,425.5 444.2,430.4 451.6,433.5 460,433.2 467.3,432 472.1,430.2 478.2,427.7 483.6,424.7 489.1,419.2 495.2,412.6 501.2,407.7 508.5,401.1 515.8,395.6 523,391.4 532.7,386.5 540,382.9 545.6,380.5 551.9,379.7 561.5,380.9 571,380.2 575,380.4 590.9,385.6 609.9,392.3 622.6,394.8 632.1,396.7 638.4,395.4 646.3,391.6 652.7,389.9 663.8,389.1 672,389.6" fill="none" stroke="#b8b8b8" stroke-width="1.2"/>
<polyline points="0,466.4 4.3,465.5 11.8,460.8 18.6,460.2 24.8,460.8 31.6,458.3 45.9,458.3 52.1,461 65.7,464.5 74.4,462.6 84.3,460.2 99.2,455.2 105.4,448.4 112.8,442.2 120,434.8 126.2,429.2 132.4,425.5 139.8,421.1 146,420.9 152.2,426.1 159.6,431.3 172,431.7 179.5,434.8 189.4,434.8 201.8,436.6 214.2,437.9 221.6,439.7 225.3,444.7 227.8,447.1 235,449.2 239.9,449 246.1,451.5 254.8,452.4 264.7,450.2 279.6,442.8 289.5,432.3 295.7,424.8 300.7,422.4 309.3,423 321.7,421.1 328.6,418.4 335.4,419.6 345,419.9 352.4,420.9 362.4,424.6 376,426.3 385.9,425.1 395.8,424.8 403.3,421.1 415.7,423 421.9,425.5 431.8,432.3 439.2,438.2 442.9,440 450.4,434.8 460,428.3 463.6,425.9 470.3,418.6 476.4,416.2 484.2,406.8 490.3,399.2 496.4,395.6 510.9,385.7 515.8,384.7 523.6,383.7 532.7,378 537.6,375.6 543.2,375.3 550.4,381.6 557.5,385.3 563.8,381.6 571,381.6 575,384.3 581.3,387.2 590.9,391.2 598.8,395.9 605.1,398.3 611.5,396.4 619.4,397 624.9,398.3 630.5,392.7 638.4,385.9 644.8,384.3 652.7,388.5 658.2,388.8 663.8,392 672.5,395.1" fill="none" stroke="#00cc00" stroke-width="1.2"/>
</g>
<path d="M915.5 0V513.5M0 342.5H968M0 513.5H915.5" stroke="#fff" stroke-width="1" fill="none"/>
<path d="M915 4.5H920M915 32.5H920M915 60.5H920M915 88.5H920M915 115.5H920M915 143.5H920M915 171.5H920M915 198.5H920M915 226.5H920M915 254.5H920M915 281.5H920M915 309.5H920M915 337.5H920M132.5 513V518M281.5 513V518M422.5 513V518M571.5 513V518M773.5 513V518" stroke="#fff" stroke-width="1"/>
<path d="M915 374.5H923" stroke="#fff" stroke-width="1"/><circle cx="923" cy="374.5" r="2.3" fill="#fff"/>
<path d="M915 406.5H923" stroke="#fff" stroke-width="1"/><circle cx="923" cy="406.5" r="2.3" fill="#fff"/>
<path d="M915 438.5H923" stroke="#fff" stroke-width="1"/><circle cx="923" cy="438.5" r="2.3" fill="#fff"/>
<path d="M915 470.5H923" stroke="#fff" stroke-width="1"/><circle cx="923" cy="470.5" r="2.3" fill="#fff"/>
<path d="M915 502.5H923" stroke="#fff" stroke-width="1"/><circle cx="923" cy="502.5" r="2.3" fill="#fff"/>
<text x="930.5" y="37.8" font-family="'Liberation Sans', Arial, sans-serif" font-size="10" fill="#dcdcdc" text-anchor="start">120.000</text>
<text x="930.5" y="175.8" font-family="'Liberation Sans', Arial, sans-serif" font-size="10" fill="#dcdcdc" text-anchor="start">110.000</text>
<text x="930.5" y="314.5" font-family="'Liberation Sans', Arial, sans-serif" font-size="10" fill="#dcdcdc" text-anchor="start">100.000</text>
<text x="929.5" y="378.9" font-family="'Liberation Sans', Arial, sans-serif" font-size="10" fill="#dcdcdc" text-anchor="start">3.04</text>
<text x="929.5" y="410.9" font-family="'Liberation Sans', Arial, sans-serif" font-size="10" fill="#dcdcdc" text-anchor="start">1.52</text>
<text x="929.5" y="442.9" font-family="'Liberation Sans', Arial, sans-serif" font-size="10" fill="#dcdcdc" text-anchor="start">0.00</text>
<text x="929.5" y="474.9" font-family="'Liberation Sans', Arial, sans-serif" font-size="10" fill="#dcdcdc" text-anchor="start">-1.52</text>
<text x="929.5" y="506.9" font-family="'Liberation Sans', Arial, sans-serif" font-size="10" fill="#dcdcdc" text-anchor="start">-3.04</text>
<text x="131.5" y="533.0" font-family="'Liberation Sans', Arial, sans-serif" font-size="10" fill="#dcdcdc" text-anchor="middle">09-01</text>
<text x="280.5" y="533.0" font-family="'Liberation Sans', Arial, sans-serif" font-size="10" fill="#dcdcdc" text-anchor="middle">10-03</text>
<text x="421.5" y="533.0" font-family="'Liberation Sans', Arial, sans-serif" font-size="10" fill="#dcdcdc" text-anchor="middle">11-01</text>
<text x="570.5" y="533.0" font-family="'Liberation Sans', Arial, sans-serif" font-size="10" fill="#dcdcdc" text-anchor="middle">12-01</text>
<text x="772.5" y="533.0" font-family="'Liberation Sans', Arial, sans-serif" font-size="10" fill="#dcdcdc" text-anchor="middle">2017-01-01</text>
<path d="M915.6 65.7L921.2 58.1H968V72.9H921.2Z" fill="#b4b8f8"/>
<text x="925.5" y="70.1" font-family="'Liberation Sans', Arial, sans-serif" font-size="10" fill="#333340" text-anchor="start">117.583</text>
<path d="M840.5 359.5H908L915 366.5L908 373.5H840.5Z" fill="#000" stroke="#fff" stroke-width="1"/>
<text x="860.8" y="371.8" font-family="'Liberation Sans', Arial, sans-serif" font-size="14.6" fill="#f0f0f0" textLength="34.3" lengthAdjust="spacingAndGlyphs">3.420</text>
</svg>
</body></html>
